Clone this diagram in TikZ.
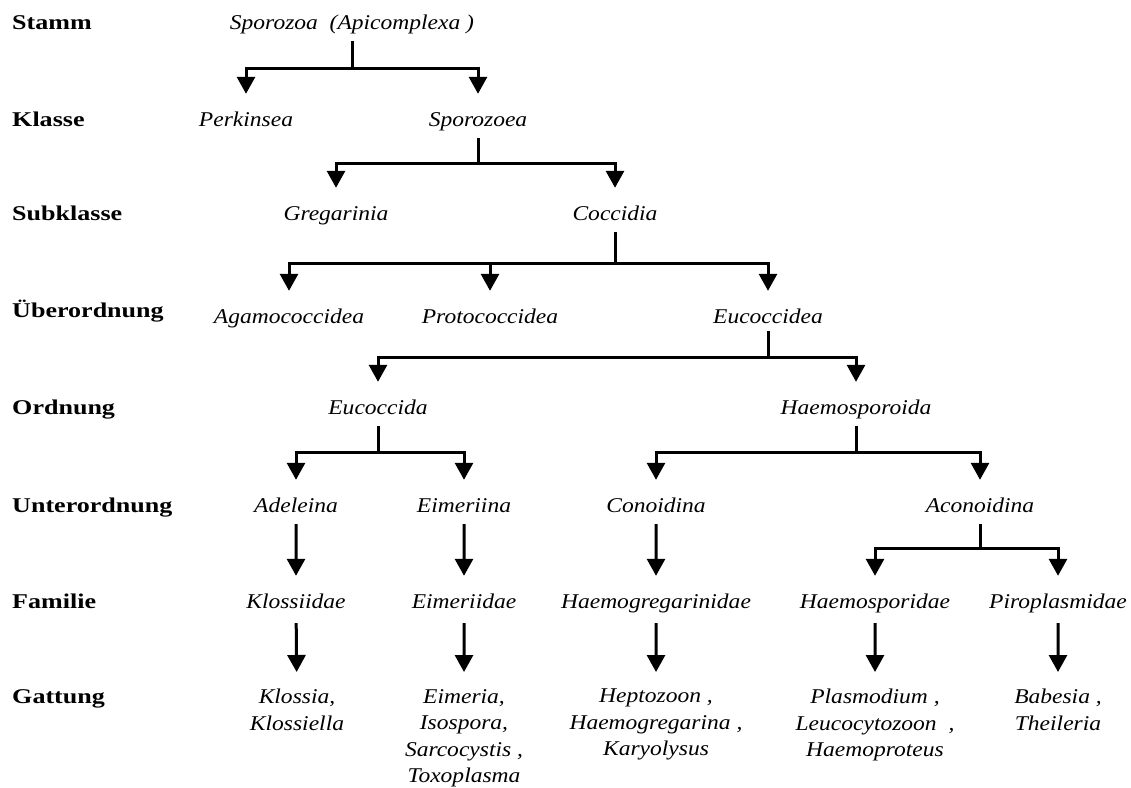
\documentclass[tikz,border=0pt]{standalone}
\usepackage{fontspec}
\setmainfont{Liberation Serif}
\usetikzlibrary{arrows.meta}

\begin{document}
\begin{tikzpicture}[
    x=1pt, y=-1pt,
    rank/.style={
        anchor=base west,
        inner sep=0pt,
        xscale=1.24,
        font=\fontsize{21}{26.5}\selectfont\bfseries
    },
    taxon/.style={
        anchor=base,
        inner sep=0pt,
        text height=15pt,
        text depth=4pt,
        xscale=1.12,
        font=\fontsize{21}{26.5}\selectfont\itshape
    },
    genus/.style={
        anchor=north,
        inner sep=0pt,
        align=center,
        xscale=1.12,
        font=\fontsize{21}{26.5}\selectfont\itshape
    },
    stem/.style={
        line width=3pt
    },
    arr/.style={
        -{Triangle[width=18pt,length=17pt]},
        line width=3pt,
        shorten >=17pt
    },
    link/.style={
        arr,
        shorten <=8pt
    }
]
\useasboundingbox (0,0) rectangle (1131,787);

\node[rank] (rstamm) at (12,29) {Stamm};
\node[rank] (rklasse) at (12,126) {Klasse};
\node[rank] (rsub) at (12,220) {Subklasse};
\node[rank] (rueber) at (12,317) {Überordnung};
\node[rank] (rord) at (12,414) {Ordnung};
\node[rank] (runter) at (12,512) {Unterordnung};
\node[rank] (rfam) at (12,608) {Familie};
\node[rank] (rgatt) at (12,703) {Gattung};

\node[taxon] (phylum) at (352,29) {Sporozoa~ (Apicomplexa )};
\node[taxon] (perk) at (246,126) {Perkinsea};
\node[taxon] (spz) at (478,126) {Sporozoea};
\node[taxon] (greg) at (336,220) {Gregarinia};
\node[taxon] (cocc) at (615,220) {Coccidia};
\node[taxon] (agam) at (289,323) {Agamococcidea};
\node[taxon] (proto) at (490,323) {Protococcidea};
\node[taxon] (eucd) at (768,323) {Eucoccidea};
\node[taxon] (euc) at (378,414) {Eucoccida};
\node[taxon] (haem) at (856,414) {Haemosporoida};
\node[taxon] (adel) at (296,512) {Adeleina};
\node[taxon] (eimi) at (464,512) {Eimeriina};
\node[taxon] (cono) at (656,512) {Conoidina};
\node[taxon] (acono) at (980,512) {Aconoidina};
\node[taxon] (kloss) at (296,608) {Klossiidae};
\node[taxon] (eimd) at (464,608) {Eimeriidae};
\node[taxon] (hgreg) at (656,608) {Haemogregarinidae};
\node[taxon] (hspor) at (875,608) {Haemosporidae};
\node[taxon] (piro) at (1058,608) {Piroplasmidae};

\node[genus] (gkloss) at (297,689) {Klossia,\\Klossiella};
\node[genus] (geim) at (464,689) {Eimeria,\\Isospora,\\Sarcocystis ,\\Toxoplasma};
\node[genus] (ghgreg) at (656,689) {Heptozoon ,\\Haemogregarina ,\\Karyolysus};
\node[genus] (ghspor) at (875,689) {Plasmodium ,\\Leucocytozoon~ ,\\Haemoproteus};
\node[genus] (gpiro) at (1058,689) {Babesia ,\\Theileria};

\path (phylum.south) ++(0,35) coordinate (f1);
\path (spz.south) ++(0,33) coordinate (f2);
\path (cocc.south) ++(0,39) coordinate (f3);
\path (eucd.south) ++(0,30) coordinate (f4);
\path (euc.south) ++(0,34) coordinate (f5);
\path (haem.south) ++(0,34) coordinate (f6);
\path (acono.south) ++(0,32) coordinate (f7);

\draw[stem, shorten <=8pt] (phylum.south) -- (f1);
\draw[arr] (f1) -| (perk);
\draw[arr] (f1) -| (spz);

\draw[stem, shorten <=8pt] (spz.south) -- (f2);
\draw[arr] (f2) -| (greg);
\draw[arr] (f2) -| (cocc);

\draw[stem, shorten <=8pt] (cocc.south) -- (f3);
\draw[arr] (f3) -| (agam);
\draw[arr] (f3) -| (proto);
\draw[arr] (f3) -| (eucd);

\draw[stem, shorten <=4pt] (eucd.south) -- (f4);
\draw[arr] (f4) -| (euc);
\draw[arr] (f4) -| (haem);

\draw[stem, shorten <=8pt] (euc.south) -- (f5);
\draw[arr] (f5) -| (adel);
\draw[arr] (f5) -| (eimi);

\draw[stem, shorten <=8pt] (haem.south) -- (f6);
\draw[arr] (f6) -| (cono);
\draw[arr] (f6) -| (acono);

\draw[stem, shorten <=8pt] (acono.south) -- (f7);
\draw[arr] (f7) -| (hspor);
\draw[arr] (f7) -| (piro);

\draw[link] (adel) -- (kloss);
\draw[link] (eimi) -- (eimd);
\draw[link] (cono) -- (hgreg);

\draw[link, shorten <=11pt, shorten >=17pt] (kloss) -- (gkloss);
\draw[link, shorten <=11pt, shorten >=17pt] (eimd) -- (geim);
\draw[link, shorten <=11pt, shorten >=17pt] (hgreg) -- (ghgreg);
\draw[link, shorten <=11pt, shorten >=17pt] (hspor) -- (ghspor);
\draw[link, shorten <=11pt, shorten >=17pt] (piro) -- (gpiro);

\end{tikzpicture}
\end{document}
